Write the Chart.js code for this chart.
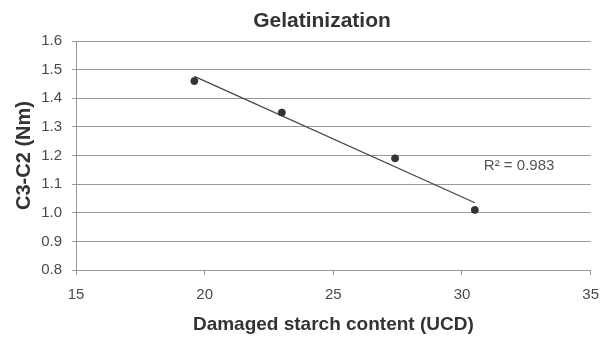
<!DOCTYPE html>
<html>
<head>
<meta charset="utf-8">
<script src="https://cdn.jsdelivr.net/npm/chart.js@4/dist/chart.umd.min.js"></script>
<style>
  html, body { margin: 0; padding: 0; background: #fff; }
  #wrap { width: 610px; height: 338px; }
</style>
</head>
<body>
<div id="wrap"><canvas id="chart" width="610" height="338"></canvas></div>
<script>
// data
const starchContent = [19.6, 23.0, 27.4, 30.5];   // Damaged starch content (UCD)
const c3c2 = [1.46, 1.35, 1.19, 1.01];            // C3-C2 (Nm)
const xTicks = [15, 20, 25, 30, 35];
const yTicks = [0.8, 0.9, 1.0, 1.1, 1.2, 1.3, 1.4, 1.5, 1.6];
const chartTitle = "Gelatinization";
const r2Label = "R\u00b2 = 0.983";

const FONT = "'Liberation Sans', Arial, Helvetica, sans-serif";

// least squares fit, like the spreadsheet trendline
function linearFit(xs, ys) {
    const n = xs.length;
    const mx = xs.reduce((a, b) => a + b, 0) / n;
    const my = ys.reduce((a, b) => a + b, 0) / n;
    let sxy = 0, sxx = 0;
    for (let i = 0; i < n; i++) {
        sxy += (xs[i] - mx) * (ys[i] - my);
        sxx += (xs[i] - mx) * (xs[i] - mx);
    }
    const slope = sxy / sxx;
    return { slope: slope, intercept: my - slope * mx };
}

const fit = linearFit(starchContent, c3c2);
const xMin = Math.min(...starchContent);
const xMax = Math.max(...starchContent);
const trendPoints = [
    { x: xMin, y: fit.intercept + fit.slope * xMin },
    { x: xMax, y: fit.intercept + fit.slope * xMax }
];

// title and R² text
const textPlugin = {
    id: "textPlugin",
    afterDraw(chart) {
        const ctx = chart.ctx;
        ctx.save();
        ctx.fillStyle = "#333";
        ctx.font = "bold 21px " + FONT;
        ctx.textAlign = "center";
        ctx.textBaseline = "alphabetic";
        ctx.fillText(chartTitle, 322, 27);

        const xs = chart.scales.x, ys = chart.scales.y;
        ctx.fillStyle = "#555";
        ctx.font = "15px " + FONT;
        ctx.textAlign = "left";
        ctx.textBaseline = "middle";
        ctx.fillText(r2Label, xs.getPixelForValue(30.85), ys.getPixelForValue(1.163));
        ctx.restore();
    }
};

const ctx = document.getElementById("chart").getContext("2d");
new Chart(ctx, {
    type: "scatter",
    data: {
        datasets: [
            {
                label: "C3-C2",
                data: starchContent.map((x, i) => ({ x: x, y: c3c2[i] })),
                backgroundColor: "#333",
                borderColor: "#333",
                pointRadius: 3.5,
                pointHoverRadius: 3.5
            },
            {
                label: "Trend",
                type: "line",
                data: trendPoints,
                borderColor: "#444",
                borderWidth: 1.2,
                pointRadius: 0,
                fill: false
            }
        ]
    },
    options: {
        responsive: false,
        animation: false,
        layout: { padding: { left: 0, right: 15, top: 41, bottom: 0 } },
        plugins: {
            legend: { display: false },
            title: { display: false },
            tooltip: { enabled: false }
        },
        scales: {
            x: {
                type: "linear",
                min: xTicks[0],
                max: xTicks[xTicks.length - 1],
                afterFit: (s) => { s.height = 68; },
                afterBuildTicks: (s) => { s.ticks = xTicks.map(v => ({ value: v })); },
                ticks: {
                    color: "#4a4a4a",
                    font: { family: FONT, size: 15 },
                    padding: 11
                },
                grid: {
                    drawOnChartArea: false,
                    drawTicks: true,
                    tickLength: 5,
                    color: "#999"
                },
                border: { color: "#999", width: 1 },
                title: {
                    display: true,
                    text: "Damaged starch content (UCD)",
                    color: "#333",
                    font: { family: FONT, size: 19, weight: "bold" },
                    padding: { top: 0, bottom: 2 }
                }
            },
            y: {
                type: "linear",
                min: yTicks[0],
                max: yTicks[yTicks.length - 1],
                afterFit: (s) => { s.width = 76; },
                afterBuildTicks: (s) => { s.ticks = yTicks.map(v => ({ value: v })); },
                ticks: {
                    color: "#4a4a4a",
                    font: { family: FONT, size: 15 },
                    padding: 10,
                    callback: (v) => Number(v).toFixed(1)
                },
                grid: {
                    color: "#999",
                    drawTicks: true,
                    tickLength: 4
                },
                border: { color: "#999", width: 1 },
                title: {
                    display: true,
                    text: "C3-C2 (Nm)",
                    color: "#333",
                    font: { family: FONT, size: 20, weight: "bold" },
                    padding: { top: 12, bottom: 0 }
                }
            }
        }
    },
    plugins: [textPlugin]
});
</script>
</body>
</html>
